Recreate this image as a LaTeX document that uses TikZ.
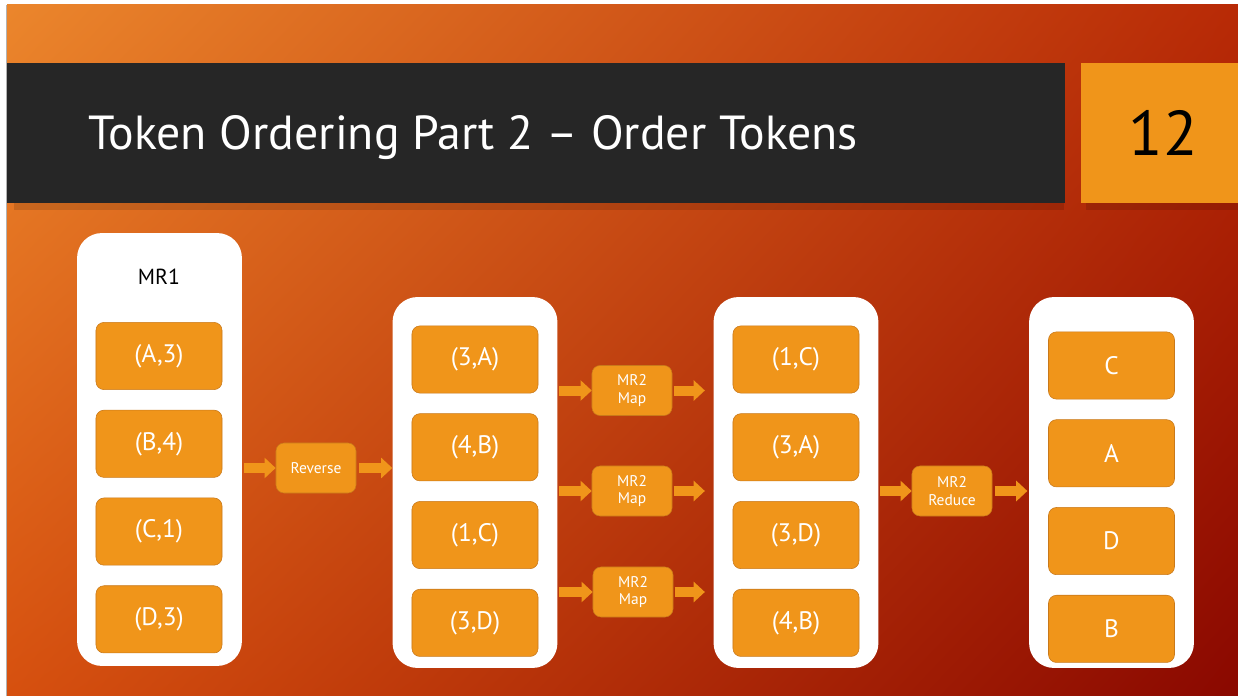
\documentclass[tikz,border=0pt]{standalone}
\usepackage{xcolor}
\usepackage{fontspec}
\setmainfont{PT Sans}
\setsansfont{PT Sans}
\usetikzlibrary{arrows.meta,positioning,shadings}

\definecolor{tokfill}{HTML}{F0951A}
\definecolor{tokline}{HTML}{C9791A}
\definecolor{titlebar}{HTML}{262626}
\definecolor{bgtl}{HTML}{EB862C}
\definecolor{bgtr}{HTML}{B82A06}
\definecolor{bgbl}{HTML}{D6500F}
\definecolor{bgbr}{HTML}{8A0800}

\begin{document}
\begin{tikzpicture}[
  x=0.025cm,y=-0.025cm,
  font=\sffamily,
  slot/.style={rounded corners=0.62cm,fill=white,minimum width=4.12cm,inner sep=0pt},
  pair/.style={rounded corners=0.2cm,draw=tokline,fill=tokfill,text=white,
    minimum width=3.15cm,minimum height=1.68cm,inner sep=0pt,
    font=\sffamily\fontsize{18}{20}\selectfont},
  job/.style={rounded corners=0.2cm,draw=tokline,fill=tokfill,text=white,
    minimum width=2cm,minimum height=1.25cm,inner sep=0pt,align=center,
    font=\sffamily\fontsize{11}{12.5}\selectfont},
  fat/.style={draw=tokfill,line width=0.25cm,-{Triangle[length=0.28cm,width=0.5cm]}},
  node distance=0.5cm
]

% ---- slide background ----
\useasboundingbox (0,0) rectangle (1238,696);
\fill[white] (0,0) rectangle (1238,696);
\shade[upper left=bgtl,upper right=bgtr,lower left=bgbl,lower right=bgbr]
  (7,5) rectangle (1238,696);
\draw[gray!60,line width=0.6pt] (6.5,5) -- (6.5,696);

% ---- title bar and slide number ----
\fill[black,opacity=0.12] (14,203) rectangle (1064,210);
\fill[black,opacity=0.12] (1086,203) rectangle (1238,210);
\node[fill=titlebar,minimum width=26.45cm,minimum height=3.5cm,inner sep=0pt] (bar) at (536,133) {};
\node[anchor=base west,inner sep=0pt,text=white,font=\sffamily\fontsize{34}{40}\selectfont] (title) at (88,149)
  {Token Ordering Part 2 -- Order Tokens};
\node[fill=tokfill,minimum width=3.93cm,minimum height=3.5cm,inner sep=0pt] (num) at (1159.5,133) {};
\node[font=\sffamily\fontsize{45}{50}\selectfont] at (1163,133) {12};

% ---- containers ----
\node[slot,minimum height=10.82cm] (c1) at (159.5,449.5) {};
\node[slot,minimum height=9.27cm] (c2) at (475,482.5) {};
\node[slot,minimum height=9.27cm] (c3) at (796,482.5) {};
\node[slot,minimum height=9.27cm] (c4) at (1111.5,482.5) {};

\node[font=\sffamily\fontsize{15.5}{18}\selectfont] (mr1) at (159,277) {MR1};

% ---- MR1 output ----
\node[pair] (a1) at (159,356) {(A,3)};
\node[pair,below=of a1] (a2) {(B,4)};
\node[pair,below=of a2] (a3) {(C,1)};
\node[pair,below=of a3] (a4) {(D,3)};

% ---- reversed pairs ----
\node[pair] (b1) at (475,359.5) {(3,A)};
\node[pair,below=of b1] (b2) {(4,B)};
\node[pair,below=of b2] (b3) {(1,C)};
\node[pair,below=of b3] (b4) {(3,D)};

% ---- sorted pairs ----
\node[pair] (s1) at (796,359.5) {(1,C)};
\node[pair,below=of s1] (s2) {(3,A)};
\node[pair,below=of s2] (s3) {(3,D)};
\node[pair,below=of s3] (s4) {(4,B)};

% ---- ordered tokens ----
\node[pair] (t1) at (1111.5,365.5) {C};
\node[pair,below=of t1] (t2) {A};
\node[pair,below=of t2] (t3) {D};
\node[pair,below=of t3] (t4) {B};

% ---- jobs ----
\node[job] (rev) at (316,468) {Reverse};
\node[job] (map1) at (632,390.5) {MR2\\Map};
\node[job] (map2) at (632,491) {MR2\\Map};
\node[job] (map3) at (633,592) {MR2\\Map};
\node[job] (red) at (952,491) {MR2\\Reduce};

% ---- arrows ----
\draw[fat] ([xshift=1]rev.west -| c1.east) -- (rev.west);
\draw[fat] ([xshift=2]rev.east) -- (rev.east -| c2.west);
\foreach \m in {map1,map2,map3}{
  \draw[fat] ([xshift=1]\m.west -| c2.east) -- (\m.west);
  \draw[fat] ([xshift=1]\m.east) -- ([xshift=-6]\m.east -| c3.west);
}
\draw[fat] ([xshift=1]red.west -| c3.east) -- (red.west);
\draw[fat] ([xshift=2]red.east) -- ([xshift=-1]red.east -| c4.west);

\end{tikzpicture}
\end{document}
